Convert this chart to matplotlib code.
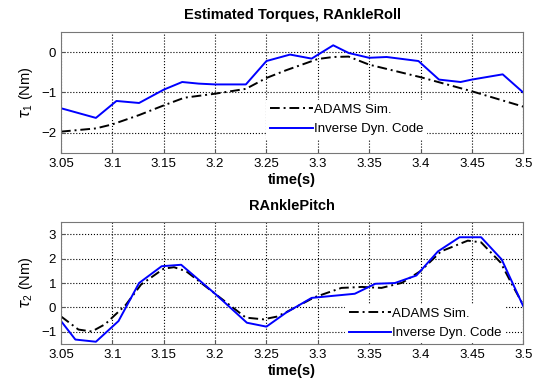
import matplotlib
matplotlib.use('Agg')
from matplotlib import pyplot as plt

plt.rcParams['font.family'] = ['Liberation Sans', 'DejaVu Sans']
plt.rcParams['font.size'] = 9.5
plt.rcParams['mathtext.fontset'] = 'custom'
plt.rcParams['mathtext.rm'] = 'Liberation Sans'

# RAnkleRoll
t_roll_sim = [3.05, 3.084, 3.1, 3.126, 3.15, 3.17, 3.2, 3.23, 3.25, 3.269, 3.3, 3.315, 3.33, 3.35, 3.4, 3.45, 3.5]
roll_sim = [-1.97, -1.89, -1.79, -1.56, -1.32, -1.13, -1.03, -0.91, -0.64, -0.45, -0.17, -0.12, -0.11, -0.31, -0.62, -0.97, -1.35]
t_roll_inv = [3.05, 3.084, 3.104, 3.126, 3.15, 3.168, 3.184, 3.2, 3.23, 3.25, 3.273, 3.294, 3.315, 3.33, 3.35, 3.367,
              3.398, 3.418, 3.439, 3.45, 3.48, 3.5]
roll_inv = [-1.39, -1.63, -1.21, -1.26, -0.93, -0.74, -0.78, -0.80, -0.80, -0.22, -0.06, -0.16, 0.17, -0.02, -0.14, -0.12,
            -0.22, -0.68, -0.74, -0.68, -0.55, -1.0]

# RAnklePitch
t_pitch_sim = [3.05, 3.067, 3.08, 3.093, 3.113, 3.128, 3.15, 3.16, 3.172, 3.2, 3.23, 3.247, 3.26, 3.27, 3.297, 3.323,
               3.343, 3.362, 3.382, 3.4, 3.42, 3.446, 3.459, 3.478, 3.49, 3.5]
pitch_sim = [-0.37, -0.91, -0.99, -0.69, 0.1, 0.94, 1.59, 1.65, 1.48, 0.56, -0.42, -0.49, -0.38, -0.18, 0.42, 0.8,
             0.84, 0.8, 1.01, 1.49, 2.3, 2.74, 2.67, 1.84, 0.87, 0.1]
t_pitch_inv = [3.05, 3.064, 3.084, 3.106, 3.126, 3.148, 3.167, 3.2, 3.231, 3.25, 3.269, 3.294, 3.336, 3.356, 3.375,
               3.396, 3.417, 3.438, 3.459, 3.479, 3.5]
pitch_inv = [-0.56, -1.32, -1.41, -0.56, 1.0, 1.69, 1.75, 0.56, -0.63, -0.79, -0.22, 0.39, 0.56, 0.97, 1.0,
             1.31, 2.3, 2.88, 2.88, 1.97, 0.05]

xticks = [3.05, 3.1, 3.15, 3.2, 3.25, 3.3, 3.35, 3.4, 3.45, 3.5]
xticklabels = ['3.05', '3.1', '3.15', '3.2', '3.25', '3.3', '3.35', '3.4', '3.45', '3.5']

fig = plt.figure(figsize=(5.35, 3.83), dpi=100)
ax1 = fig.add_axes([0.114, 0.6005, 0.864, 0.316])
ax2 = fig.add_axes([0.114, 0.102, 0.864, 0.318])

panels = [
    (ax1, t_roll_sim, roll_sim, t_roll_inv, roll_inv, 'Estimated Torques, RAnkleRoll', r'$\tau_1$ (Nm)',
     (-2.5, 0.5), [-2, -1, 0], (0.43, 0.06)),
    (ax2, t_pitch_sim, pitch_sim, t_pitch_inv, pitch_inv, 'RAnklePitch', r'$\tau_2$ (Nm)',
     (-1.5, 3.5), [-1, 0, 1, 2, 3], (0.6, -0.05)),
]

for ax, ts, ys, ti, yi, title, ylab, ylim, yticks, lpos in panels:
    ax.plot(ts, ys, color='black', linestyle='-.', dashes=(5, 2, 1, 2), linewidth=1.4, label='ADAMS Sim.')
    ax.plot(ti, yi, color='#0000ff', linestyle='-', linewidth=1.4, label='Inverse Dyn. Code')
    ax.set_xlim(3.05, 3.5)
    ax.set_ylim(*ylim)
    ax.set_xticks(xticks)
    ax.set_xticklabels(xticklabels)
    ax.set_yticks(yticks)
    ax.grid(True, color='black', linestyle=':', linewidth=0.8)
    ax.tick_params(direction='in', length=3, color='#555555')
    for s in ax.spines.values():
        s.set_color('#777777')
    ax.set_title(title, fontsize=10.5, fontweight='bold', pad=9)
    ax.set_xlabel('time(s)', fontsize=10.5, fontweight='bold', labelpad=2)
    ax.set_ylabel(ylab, fontsize=10.5, labelpad=4)
    leg = ax.legend(loc='lower left', bbox_to_anchor=lpos, frameon=True, fancybox=False,
                    edgecolor='none', framealpha=1.0, fontsize=9.5, handlelength=3.2,
                    handletextpad=0.1, borderpad=0.3, labelspacing=0.55)

fig.savefig('out.png', dpi=100)
